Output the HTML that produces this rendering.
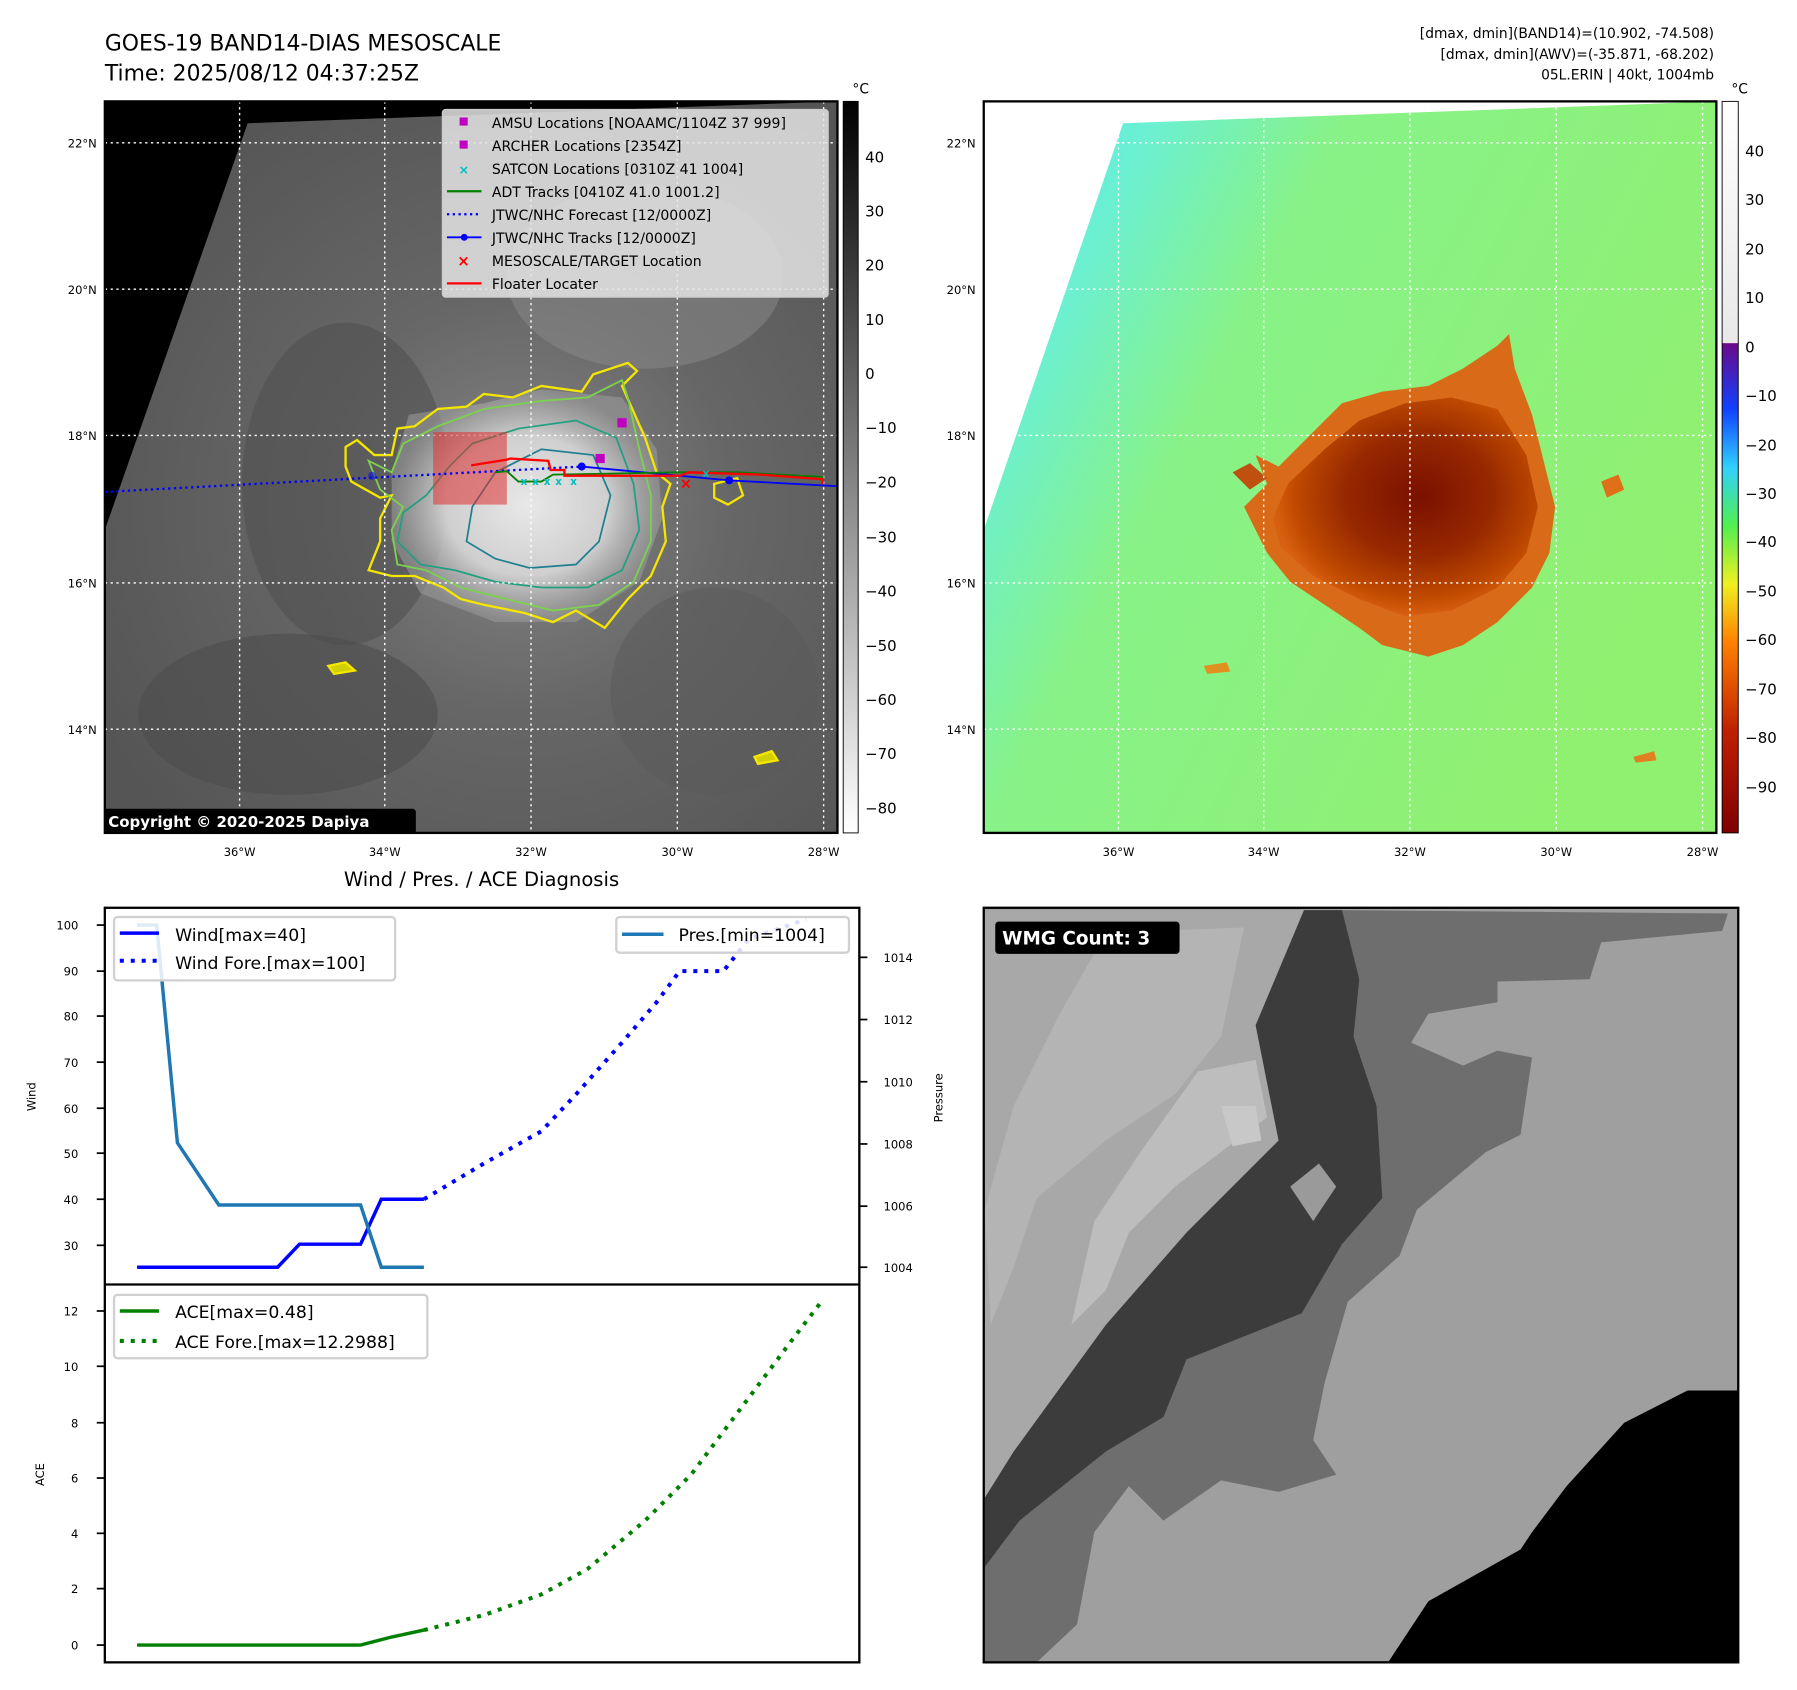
<!DOCTYPE html>
<html><head><meta charset="utf-8"><style>
html,body{margin:0;padding:0;background:#fff;}
svg{display:block;}
text{font-family:"DejaVu Sans","Liberation Sans",sans-serif;}
</style></head><body>
<svg width="1797" height="1690" viewBox="0 0 1560 1467" preserveAspectRatio="none" xmlns="http://www.w3.org/2000/svg">
<defs>
<radialGradient id="irg" cx="0.57" cy="0.55" r="0.65">
<stop offset="0" stop-color="#858585"/><stop offset="0.45" stop-color="#666"/><stop offset="1" stop-color="#555"/>
</radialGradient>
<radialGradient id="core" cx="0.5" cy="0.5" r="0.5">
<stop offset="0" stop-color="#e8e8e8"/><stop offset="0.6" stop-color="#cfcfcf"/><stop offset="1" stop-color="#999" stop-opacity="0.6"/>
</radialGradient>
<linearGradient id="cbg" x1="0" y1="0" x2="0" y2="1">
<stop offset="0" stop-color="#000"/><stop offset="1" stop-color="#fff"/>
</linearGradient>
<linearGradient id="cbc" x1="0" y1="0" x2="0" y2="1">
<stop offset="0" stop-color="#ffffff"/><stop offset="0.33" stop-color="#e8e8e8"/>
<stop offset="0.331" stop-color="#6a0a8a"/><stop offset="0.42" stop-color="#1040ff"/>
<stop offset="0.5" stop-color="#30d0ff"/><stop offset="0.58" stop-color="#50f050"/>
<stop offset="0.66" stop-color="#f0f020"/><stop offset="0.74" stop-color="#ff8000"/>
<stop offset="0.86" stop-color="#c02000"/><stop offset="1" stop-color="#800000"/>
</linearGradient>
<linearGradient id="grn" x1="0" y1="0" x2="1" y2="0.5">
<stop offset="0" stop-color="#4ee8ff"/><stop offset="0.2" stop-color="#6cf0d0"/><stop offset="0.4" stop-color="#88f288"/><stop offset="1" stop-color="#90f070"/>
</linearGradient>
<radialGradient id="storm" cx="0.55" cy="0.45" r="0.55">
<stop offset="0" stop-color="#7a1000"/><stop offset="0.5" stop-color="#962800"/><stop offset="0.85" stop-color="#c04a00"/><stop offset="1" stop-color="#d86010"/>
</radialGradient>
<clipPath id="c1"><rect x="91" y="88" width="636" height="635"/></clipPath>
<clipPath id="c2"><rect x="854" y="88" width="636" height="635"/></clipPath>
</defs>

<text x="91" y="44" font-size="19">GOES-19 BAND14-DIAS MESOSCALE</text>
<text x="91" y="70" font-size="19">Time: 2025/08/12 04:37:25Z</text>
<g font-size="12" text-anchor="end">
<text x="1488" y="33">[dmax, dmin](BAND14)=(10.902, -74.508)</text>
<text x="1488" y="51">[dmax, dmin](AWV)=(-35.871, -68.202)</text>
<text x="1488" y="69">05L.ERIN | 40kt, 1004mb</text>
</g>

<g clip-path="url(#c1)">
<rect x="91" y="88" width="636" height="635" fill="url(#irg)"/>
<ellipse cx="300" cy="420" rx="90" ry="140" fill="#505050" opacity="0.6"/>
<ellipse cx="250" cy="620" rx="130" ry="70" fill="#4c4c4c" opacity="0.6"/>
<ellipse cx="560" cy="240" rx="120" ry="80" fill="#8a8a8a" opacity="0.5"/>
<ellipse cx="620" cy="600" rx="90" ry="90" fill="#5a5a5a" opacity="0.5"/>
<polygon points="91,88 727,88 727,88 215,107 91,460" fill="#000"/>
<path d="M340,410 L355,360 L420,350 L470,338 L540,345 L570,390 L575,450 L555,505 L500,540 L430,540 L365,515 L340,470 Z" fill="url(#core)"/>
<path d="M300,388 L310,382 L325,395 L340,395 L345,372 L360,370 L380,355 L405,353 L420,342 L445,345 L470,335 L505,340 L515,325 L545,315 L553,322 L540,335 L560,380 L570,410 L582,420 L575,440 L578,470 L565,500 L545,520 L525,545 L500,530 L480,540 L455,532 L420,525 L400,520 L385,510 L360,500 L340,500 L320,495 L330,470 L330,450 L340,430 L330,432 L305,418 L300,405 Z" fill="none" stroke="#f5e600" stroke-width="2"/>
<path d="M320,400 L340,410 L350,385 L380,370 L420,355 L470,348 L510,345 L540,330 L545,345 L555,390 L565,430 L565,470 L550,505 L520,525 L480,530 L440,520 L400,510 L370,495 L345,490 L340,460 L350,440 L330,425 Z" fill="none" stroke="#7cd050" stroke-width="1.6"/>
<path d="M350,445 L370,430 L390,405 L410,385 L450,372 L500,365 L535,380 L550,420 L555,460 L540,495 L510,510 L470,510 L430,505 L395,495 L365,490 L345,470 Z" fill="none" stroke="#20a080" stroke-width="1.5"/>
<path d="M410,440 L430,410 L470,390 L515,395 L530,430 L520,470 L500,490 L460,493 L430,485 L405,470 Z" fill="none" stroke="#1f7f90" stroke-width="1.5"/>
<path d="M285,578 L300,575 L308,582 L290,585 Z" fill="#d0d000" stroke="#f5e600" stroke-width="2"/>
<path d="M655,657 L670,652 L675,660 L658,663 Z" fill="#d0d000" stroke="#f5e600" stroke-width="2"/>
<path d="M620,420 L640,415 L645,430 L632,438 L620,432 Z" fill="none" stroke="#f5e600" stroke-width="2"/>
<g stroke="#fff" stroke-width="1.2" stroke-dasharray="2,3">
<line x1="208" y1="88" x2="208" y2="723"/><line x1="334" y1="88" x2="334" y2="723"/><line x1="461" y1="88" x2="461" y2="723"/><line x1="588" y1="88" x2="588" y2="723"/><line x1="715" y1="88" x2="715" y2="723"/>
<line x1="91" y1="124" x2="727" y2="124"/><line x1="91" y1="251" x2="727" y2="251"/><line x1="91" y1="378" x2="727" y2="378"/><line x1="91" y1="506" x2="727" y2="506"/><line x1="91" y1="633" x2="727" y2="633"/>
</g>
<rect x="376" y="375" width="64" height="63" fill="#e03030" fill-opacity="0.55"/>
<polyline points="91,427 505,405" fill="none" stroke="#0000ff" stroke-width="2" stroke-dasharray="2,3"/>
<polyline points="505,405 633,417 727,422" fill="none" stroke="#0000ff" stroke-width="1.6"/>
<circle cx="505" cy="405" r="3.5" fill="#0000ff"/><circle cx="633" cy="417" r="3.5" fill="#0000ff"/><circle cx="323" cy="413" r="3.5" fill="#0000ff" opacity="0.5"/>
<polyline points="430,410 440,409 450,418 470,418 480,412 590,410 640,410 715,414" fill="none" stroke="#008000" stroke-width="1.6"/>
<polyline points="409,404 440,399 443,398 476,400 478,408 490,408 490,413 590,413 598,410 660,412 714,416 714,420" fill="none" stroke="#ff0000" stroke-width="2"/>
<text x="590" y="424" font-size="13" fill="#ff0000" font-weight="bold">×</text>
<rect x="517" y="394" width="8" height="8" fill="#c000c0"/>
<rect x="536" y="363" width="8" height="8" fill="#c000c0"/>
<g fill="#00c0c0" font-size="9" font-weight="bold">
<text x="452" y="421">x</text><text x="462" y="421">x</text><text x="472" y="421">x</text><text x="482" y="421">x</text><text x="495" y="421">x</text><text x="610" y="414">x</text>
</g>
<rect x="384" y="95" width="335" height="163" rx="3" fill="#e4e4e4" fill-opacity="0.85" stroke="#cccccc"/>
<g font-size="12.2">
<rect x="399" y="102" width="7" height="7" fill="#c000c0"/><text x="427" y="111">AMSU Locations [NOAAMC/1104Z 37 999]</text>
<rect x="399" y="122" width="7" height="7" fill="#c000c0"/><text x="427" y="131">ARCHER Locations [2354Z]</text>
<text x="398" y="151" fill="#00c0c0" font-weight="bold" font-size="11">×</text><text x="427" y="151">SATCON Locations [0310Z 41 1004]</text>
<line x1="388" y1="166" x2="418" y2="166" stroke="#008000" stroke-width="2"/><text x="427" y="171">ADT Tracks [0410Z 41.0 1001.2]</text>
<line x1="388" y1="186" x2="418" y2="186" stroke="#0000ff" stroke-width="2" stroke-dasharray="2,3"/><text x="427" y="191">JTWC/NHC Forecast [12/0000Z]</text>
<line x1="388" y1="206" x2="418" y2="206" stroke="#0000ff" stroke-width="1.6"/><circle cx="403" cy="206" r="3" fill="#0000ff"/><text x="427" y="211">JTWC/NHC Tracks [12/0000Z]</text>
<text x="397" y="231" fill="#ff0000" font-weight="bold" font-size="13">×</text><text x="427" y="231">MESOSCALE/TARGET Location</text>
<line x1="388" y1="246" x2="418" y2="246" stroke="#ff0000" stroke-width="2"/><text x="427" y="251">Floater Locater</text>
</g>
<rect x="89" y="702" width="272" height="22" rx="3" fill="#000"/>
<text x="94" y="718" font-size="13" font-weight="bold" fill="#fff">Copyright © 2020-2025 Dapiya</text>
</g>
<rect x="91" y="88" width="636" height="635" fill="none" stroke="#000" stroke-width="2"/>
<rect x="732" y="88" width="13" height="635" fill="url(#cbg)" stroke="#000" stroke-width="0.8"/>
<text x="740" y="81" font-size="12">°C</text>
<g font-size="13">
<text x="751" y="141">40</text><text x="751" y="188">30</text><text x="751" y="235">20</text><text x="751" y="282">10</text><text x="751" y="329">0</text>
<text x="751" y="376">−10</text><text x="751" y="423">−20</text><text x="751" y="471">−30</text><text x="751" y="518">−40</text><text x="751" y="565">−50</text><text x="751" y="612">−60</text><text x="751" y="659">−70</text><text x="751" y="706">−80</text>
</g>
<g font-size="10" text-anchor="end">
<text x="84" y="128">22°N</text><text x="84" y="255">20°N</text><text x="84" y="382">18°N</text><text x="84" y="510">16°N</text><text x="84" y="637">14°N</text>
<text x="847" y="128">22°N</text><text x="847" y="255">20°N</text><text x="847" y="382">18°N</text><text x="847" y="510">16°N</text><text x="847" y="637">14°N</text>
</g>
<g font-size="10" text-anchor="middle">
<text x="208" y="743">36°W</text><text x="334" y="743">34°W</text><text x="461" y="743">32°W</text><text x="588" y="743">30°W</text><text x="715" y="743">28°W</text>
<text x="971" y="743">36°W</text><text x="1097" y="743">34°W</text><text x="1224" y="743">32°W</text><text x="1351" y="743">30°W</text><text x="1478" y="743">28°W</text>
</g>

<g clip-path="url(#c2)">
<rect x="854" y="88" width="636" height="635" fill="url(#grn)"/>
<polygon points="854,88 1490,88 1490,88 975,107 854,460" fill="#fff"/>
<path d="M1100,420 L1090,395 L1110,405 L1140,375 L1165,350 L1200,340 L1240,335 L1270,320 L1300,300 L1310,290 L1315,320 L1330,360 L1340,400 L1350,440 L1345,480 L1330,510 L1300,540 L1270,560 L1240,570 L1200,560 L1180,545 L1150,525 L1120,505 L1100,480 L1090,460 L1080,440 Z" fill="#d86a18"/>
<path d="M1105,450 L1118,420 L1150,390 L1180,365 L1220,350 L1260,345 L1300,355 L1325,395 L1335,440 L1325,480 L1300,510 L1260,530 L1220,535 L1180,520 L1140,500 L1112,475 Z" fill="url(#storm)"/>
<path d="M1070,410 L1085,402 L1100,415 L1085,425 Z" fill="#c05010"/>
<path d="M1390,418 L1405,412 L1410,425 L1395,432 Z" fill="#e07018"/>
<path d="M1045,578 L1065,575 L1068,583 L1048,585 Z" fill="#e09020"/>
<path d="M1418,657 L1436,652 L1438,660 L1420,662 Z" fill="#e08020"/>
<g stroke="#fff" stroke-width="1.2" stroke-dasharray="2,3">
<line x1="971" y1="88" x2="971" y2="723"/><line x1="1097" y1="88" x2="1097" y2="723"/><line x1="1224" y1="88" x2="1224" y2="723"/><line x1="1351" y1="88" x2="1351" y2="723"/><line x1="1478" y1="88" x2="1478" y2="723"/>
<line x1="854" y1="124" x2="1490" y2="124"/><line x1="854" y1="251" x2="1490" y2="251"/><line x1="854" y1="378" x2="1490" y2="378"/><line x1="854" y1="506" x2="1490" y2="506"/><line x1="854" y1="633" x2="1490" y2="633"/>
</g>
</g>
<rect x="854" y="88" width="636" height="635" fill="none" stroke="#000" stroke-width="2"/>
<rect x="1495" y="88" width="14" height="635" fill="url(#cbc)" stroke="#000" stroke-width="0.8"/>
<text x="1503" y="81" font-size="12">°C</text>
<g font-size="13">
<text x="1515" y="136">40</text><text x="1515" y="178">30</text><text x="1515" y="221">20</text><text x="1515" y="263">10</text><text x="1515" y="306">0</text>
<text x="1515" y="348">−10</text><text x="1515" y="391">−20</text><text x="1515" y="433">−30</text><text x="1515" y="475">−40</text><text x="1515" y="518">−50</text><text x="1515" y="560">−60</text><text x="1515" y="603">−70</text><text x="1515" y="645">−80</text><text x="1515" y="688">−90</text>
</g>

<text x="418" y="769" font-size="17" text-anchor="middle">Wind / Pres. / ACE Diagnosis</text>
<rect x="91" y="788" width="655" height="655" fill="none" stroke="#000" stroke-width="2"/>
<line x1="91" y1="1115" x2="746" y2="1115" stroke="#000" stroke-width="2"/>
<g font-size="10" text-anchor="end">
<text x="68" y="807">100</text><text x="68" y="847">90</text><text x="68" y="886">80</text><text x="68" y="926">70</text><text x="68" y="966">60</text><text x="68" y="1005">50</text><text x="68" y="1045">40</text><text x="68" y="1085">30</text>
<text x="68" y="1142">12</text><text x="68" y="1190">10</text><text x="68" y="1239">8</text><text x="68" y="1287">6</text><text x="68" y="1335">4</text><text x="68" y="1383">2</text><text x="68" y="1432">0</text>
</g>
<g stroke="#000" stroke-width="1.5">
<line x1="84" y1="803" x2="91" y2="803"/><line x1="84" y1="843" x2="91" y2="843"/><line x1="84" y1="882" x2="91" y2="882"/><line x1="84" y1="922" x2="91" y2="922"/><line x1="84" y1="962" x2="91" y2="962"/><line x1="84" y1="1001" x2="91" y2="1001"/><line x1="84" y1="1041" x2="91" y2="1041"/><line x1="84" y1="1081" x2="91" y2="1081"/>
<line x1="84" y1="1138" x2="91" y2="1138"/><line x1="84" y1="1186" x2="91" y2="1186"/><line x1="84" y1="1235" x2="91" y2="1235"/><line x1="84" y1="1283" x2="91" y2="1283"/><line x1="84" y1="1331" x2="91" y2="1331"/><line x1="84" y1="1379" x2="91" y2="1379"/><line x1="84" y1="1428" x2="91" y2="1428"/>
<line x1="746" y1="831" x2="753" y2="831"/><line x1="746" y1="885" x2="753" y2="885"/><line x1="746" y1="939" x2="753" y2="939"/><line x1="746" y1="993" x2="753" y2="993"/><line x1="746" y1="1047" x2="753" y2="1047"/><line x1="746" y1="1100" x2="753" y2="1100"/>
</g>
<g font-size="10">
<text x="767" y="835">1014</text><text x="767" y="889">1012</text><text x="767" y="943">1010</text><text x="767" y="997">1008</text><text x="767" y="1051">1006</text><text x="767" y="1104">1004</text>
</g>
<text transform="translate(31,952) rotate(-90)" font-size="10" text-anchor="middle">Wind</text>
<text transform="translate(38,1280) rotate(-90)" font-size="10" text-anchor="middle">ACE</text>
<text transform="translate(818,953) rotate(-90)" font-size="10" text-anchor="middle">Pressure</text>
<polyline points="119,1100 241,1100 260,1080 313,1080 331,1041 368,1041" fill="none" stroke="#0000ff" stroke-width="3"/>
<polyline points="368,1041 420,1010 470,982 500,950 540,905 570,870 590,843 628,843 650,815 700,798" fill="none" stroke="#0000ff" stroke-width="3.5" stroke-dasharray="3.5,6"/>
<polyline points="119,803 136,803 154,992 190,1046 313,1046 331,1100 368,1100" fill="none" stroke="#1f77b4" stroke-width="3"/>
<polyline points="119,1428 313,1428 340,1421 368,1415" fill="none" stroke="#008000" stroke-width="3"/>
<polyline points="368,1415 420,1402 470,1384 510,1362 560,1320 600,1280 630,1240 660,1200 690,1160 713,1130" fill="none" stroke="#008000" stroke-width="3.5" stroke-dasharray="3.5,6"/>
<rect x="99" y="796" width="244" height="55" rx="3" fill="#fff" fill-opacity="0.85" stroke="#d0d0d0" stroke-width="2"/>
<line x1="104" y1="810" x2="138" y2="810" stroke="#0000ff" stroke-width="3"/><text x="152" y="817" font-size="15">Wind[max=40]</text>
<line x1="104" y1="834" x2="138" y2="834" stroke="#0000ff" stroke-width="3.5" stroke-dasharray="3.5,6"/><text x="152" y="841" font-size="15">Wind Fore.[max=100]</text>
<rect x="535" y="796" width="202" height="31" rx="3" fill="#fff" fill-opacity="0.85" stroke="#d0d0d0" stroke-width="2"/>
<line x1="540" y1="811" x2="576" y2="811" stroke="#1f77b4" stroke-width="3"/><text x="589" y="817" font-size="15">Pres.[min=1004]</text>
<rect x="99" y="1124" width="272" height="55" rx="3" fill="#fff" fill-opacity="0.85" stroke="#d0d0d0" stroke-width="2"/>
<line x1="104" y1="1138" x2="138" y2="1138" stroke="#008000" stroke-width="3"/><text x="152" y="1144" font-size="15">ACE[max=0.48]</text>
<line x1="104" y1="1164" x2="138" y2="1164" stroke="#008000" stroke-width="3.5" stroke-dasharray="3.5,6"/><text x="152" y="1170" font-size="15">ACE Fore.[max=12.2988]</text>

<rect x="854" y="788" width="655" height="655" fill="#9f9f9f"/>
<polygon points="1160,790 1500,793 1495,808 1390,818 1380,850 1300,852 1300,870 1240,880 1225,905 1270,925 1300,912 1330,918 1320,985 1290,1000 1230,1050 1215,1090 1170,1130 1150,1200 1140,1250 1160,1280 1110,1295 1060,1285 1010,1320 980,1290 950,1330 935,1410 900,1443 855,1443 855,1360 880,1290 960,1150 1030,1070" fill="#6e6e6e"/>
<polygon points="855,790 1132,790 1090,890 1110,990 1030,1070 960,1150 880,1260 855,1300" fill="#a8a8a8"/>
<polygon points="960,810 1080,805 1060,900 1020,950 960,990 900,1040 880,1100 860,1150 855,1050 880,960 920,880" fill="#b4b4b4"/>
<polygon points="1040,930 1090,920 1100,970 1060,1000 1020,1030 980,1070 960,1120 930,1150 950,1060 990,1000" fill="#bdbdbd"/>
<polygon points="1132,790 1165,790 1180,850 1175,900 1195,960 1200,1040 1165,1080 1130,1140 1080,1160 1030,1180 1010,1230 960,1260 885,1320 855,1360 855,1300 880,1260 960,1150 1030,1070 1110,990 1090,890" fill="#3c3c3c"/>
<polygon points="1060,960 1090,960 1095,990 1070,995" fill="#c8c8c8"/>
<polygon points="1120,1030 1145,1010 1160,1030 1140,1060" fill="#9a9a9a"/>
<polygon points="1205,1443 1240,1390 1320,1345 1330,1330 1360,1290 1410,1235 1465,1207 1509,1207 1509,1443" fill="#000"/>
<rect x="854" y="788" width="655" height="655" fill="none" stroke="#000" stroke-width="2"/>
<rect x="864" y="800" width="160" height="28" rx="3" fill="#000"/>
<text x="870" y="820" font-size="16" font-weight="bold" fill="#fff">WMG Count: 3</text>
</svg>
</body></html>
